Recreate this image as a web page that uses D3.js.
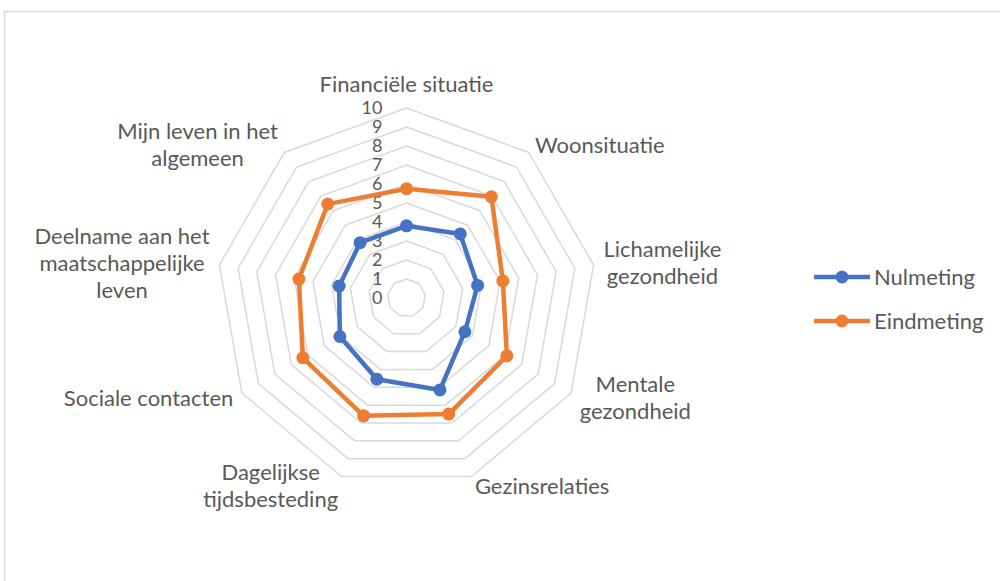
<!DOCTYPE html>
<html>
<head>
<meta charset="utf-8">
<script src="https://cdn.jsdelivr.net/npm/d3@7"></script>
<style>
  body { margin: 0; background: #fff; }
  svg { display: block; font-family: Lato, "Open Sans", sans-serif; }
</style>
</head>
<body>
<div id="chart"></div>
<script>
// categories (clockwise from the top)
const categories = [
    ["Financiële situatie"],
    ["Woonsituatie"],
    ["Lichamelijke", "gezondheid"],
    ["Mentale", "gezondheid"],
    ["Gezinsrelaties"],
    ["Dagelijkse", "tijdsbesteding"],
    ["Sociale contacten"],
    ["Deelname aan het", "maatschappelijke", "leven"],
    ["Mijn leven in het", "algemeen"]
];
const nulmeting = [3.8, 4.4, 3.8, 3.55, 5.15, 4.55, 4.05, 3.6, 3.8];
const eindmeting = [5.75, 6.95, 5.15, 6.1, 6.5, 6.6, 6.3, 5.75, 6.45];
const ticks = [0, 1, 2, 3, 4, 5, 6, 7, 8, 9, 10];
const seriesNames = ["Nulmeting", "Eindmeting"];
const colors = ["#4472C4", "#ED7D31"];

const width = 1000, height = 581;
const cx = 406.5, cy = 298;

const svg = d3.select("#chart")
    .append("svg")
    .attr("width", width)
    .attr("height", height);

// chart border
svg.append("rect")
    .attr("x", 4.5).attr("y", 11.5)
    .attr("width", 1000).attr("height", 600)
    .attr("fill", "none")
    .attr("stroke", "#d9d9d9")
    .attr("stroke-width", 1.5);

const g = svg.append("g").attr("transform", `translate(${cx},${cy})`);

let rScale = d3.scaleLinear().domain([0, 10]).range([0, 190]);
let angle = d3.scaleLinear().domain([0, categories.length]).range([0, 2 * Math.PI]);

const radial = d3.lineRadial()
    .angle((d, i) => angle(i))
    .radius((d) => rScale(d))
    .curve(d3.curveLinearClosed);

// grid rings
g.selectAll(".ring")
    .data(ticks.slice(1))
    .enter()
    .append("path")
    .attr("class", "ring")
    .attr("d", (t) => radial(categories.map(() => t)))
    .attr("fill", "none")
    .attr("stroke", "#d9d9d9")
    .attr("stroke-width", 1.5);

// tick labels
g.selectAll(".tick")
    .data(ticks)
    .enter()
    .append("text")
    .attr("class", "tick")
    .attr("x", -24)
    .attr("y", (t) => -rScale(t))
    .attr("dy", "0.35em")
    .attr("text-anchor", "end")
    .attr("font-size", "18px")
    .attr("fill", "#595959")
    .text((t) => t);

// category labels
const lineH = 27;
categories.forEach((lines, i) => {
    const a = angle(i);
    const s = Math.sin(a), c = Math.cos(a);
    const px = s * (rScale(10) + 10), py = -c * (rScale(10) + 10);
    const t = g.append("text")
        .attr("font-size", "22px")
        .attr("fill", "#595959")
        .attr("text-anchor", "middle");
    lines.forEach((l, k) => {
        t.append("tspan").text(l);
    });
    let w = d3.max(t.selectAll("tspan").nodes(), (n) => n.getComputedTextLength());
    let h = lines.length * lineH;
    let bx;
    if (Math.abs(s) < 0.1) bx = px;
    else if (s > 0) bx = px + w / 2;
    else bx = px - w / 2;
    let top = Math.abs(s) < 0.1 ? py - h : py - h / 2;
    t.selectAll("tspan")
        .attr("x", bx)
        .attr("y", (d, k) => top + lineH * k + lineH / 2)
        .attr("dy", "0.35em");
});

// series
[nulmeting, eindmeting].forEach((vals, si) => {
    g.append("path")
        .attr("d", radial(vals))
        .attr("fill", "none")
        .attr("stroke", colors[si])
        .attr("stroke-width", 4.5)
        .attr("stroke-linejoin", "round");
    g.selectAll(".pt" + si)
        .data(vals)
        .enter()
        .append("circle")
        .attr("class", "pt" + si)
        .attr("cx", (d, i) => Math.sin(angle(i)) * rScale(d))
        .attr("cy", (d, i) => -Math.cos(angle(i)) * rScale(d))
        .attr("r", 6.5)
        .attr("fill", colors[si]);
});

// legend
const legend = svg.append("g").attr("transform", "translate(814,277)");
seriesNames.forEach((name, i) => {
    const row = legend.append("g").attr("transform", `translate(0,${i * 44})`);
    row.append("line")
        .attr("x1", 0).attr("x2", 56)
        .attr("stroke", colors[i])
        .attr("stroke-width", 4.5);
    row.append("circle")
        .attr("cx", 28).attr("r", 6.5)
        .attr("fill", colors[i]);
    row.append("text")
        .attr("x", 60)
        .attr("dy", "0.35em")
        .attr("font-size", "22px")
        .attr("fill", "#595959")
        .text(name);
});
</script>
</body>
</html>
